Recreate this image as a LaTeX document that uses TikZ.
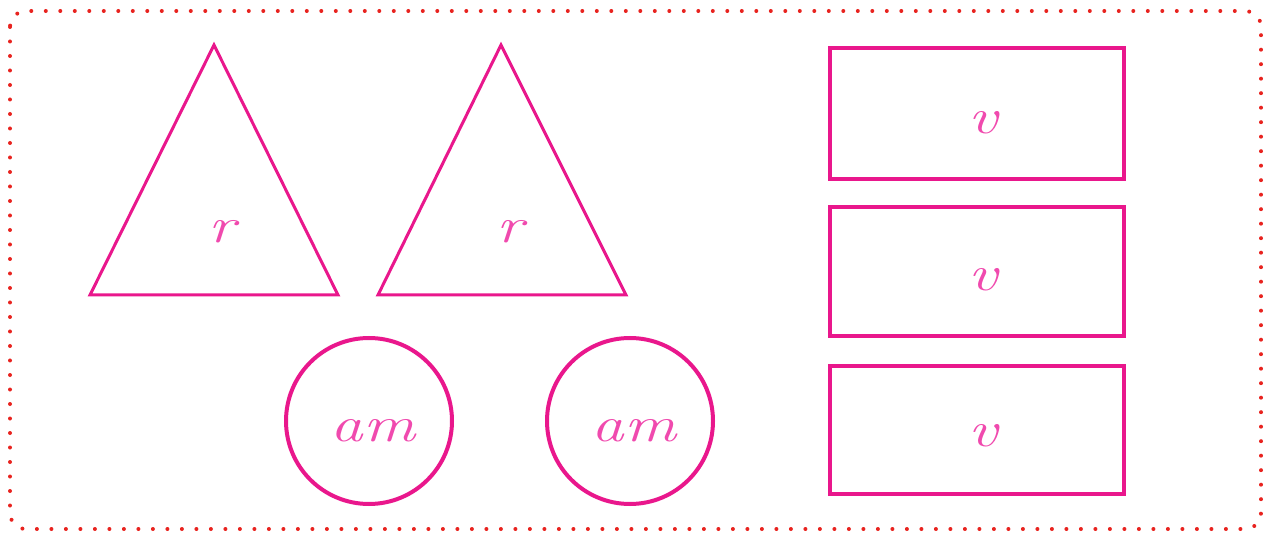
\documentclass[tikz,border=0pt]{standalone}
\usepackage{fontspec}
\definecolor{framered}{HTML}{E8231F}
\definecolor{shapepink}{HTML}{E9178C}
\definecolor{textpink}{HTML}{F04AAE}
\tikzset{
  frame/.style={draw=framered, line width=4pt, line cap=round, dash pattern=on 0pt off 14.5pt, rounded corners=16pt},
  tri/.style={draw=shapepink, line width=3pt, line join=miter},
  ring/.style={draw=shapepink, line width=4pt},
  box/.style={draw=shapepink, line width=3.5pt},
  lbl/.style={text=textpink, anchor=base, inner sep=0pt, font=\fontsize{50}{50}\selectfont\itshape, xscale=1.3}
}
\begin{document}
\begin{tikzpicture}[x=1pt,y=-1pt]
\useasboundingbox (0,0) rectangle (1272,537);
\draw[frame] (10,11) rectangle (1261,529);
% triangles
\draw[tri] (214,45) -- (338,295) -- (90,295) -- cycle;
\draw[tri] (501,45) -- (626,295) -- (378,295) -- cycle;
% circles
\draw[ring] (369,421) circle[radius=83pt];
\draw[ring] (630,421) circle[radius=83pt];
% rectangles
\draw[box] (830,48) rectangle (1124,179);
\draw[box] (830,207) rectangle (1124,336);
\draw[box] (830,366) rectangle (1124,494);
% labels
\node[lbl] (t1) at (222,243) {r};
\node[lbl] (t2) at (510,243) {r};
\node[lbl] (c1) at (373,441) {am};
\node[lbl] (c2) at (634,441) {am};
\node[lbl] (r1) at (983,134) {v};
\node[lbl] (r2) at (983,291) {v};
\node[lbl] (r3) at (983,446) {v};
\end{tikzpicture}
\end{document}
